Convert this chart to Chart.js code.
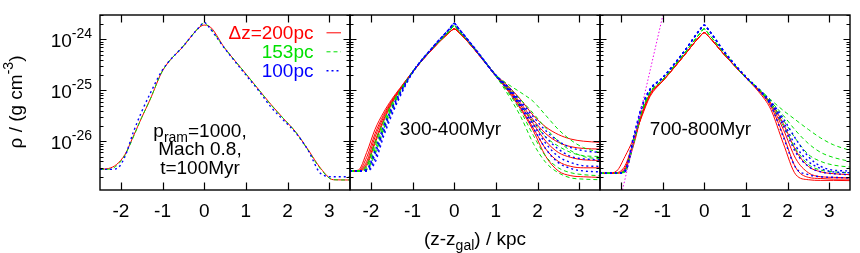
<!DOCTYPE html>
<html>
<head>
<meta charset="utf-8">
<script src="https://cdn.jsdelivr.net/npm/chart.js@4.4.1/dist/chart.umd.min.js"></script>
<style>
  html, body { margin: 0; padding: 0; background: #fff; }
  #wrap { position: relative; width: 860px; height: 253px; }
  #wrap canvas { position: absolute; left: 0; top: 0; }
</style>
</head>
<body>
<div id="wrap">
  <canvas id="p1" width="860" height="253"></canvas>
  <canvas id="p2" width="860" height="253"></canvas>
  <canvas id="p3" width="860" height="253"></canvas>
</div>
<script>
// --- datos ---
const zKpc = [-2.5, -2.3, -2.1, -1.9, -1.7, -1.5, -1.3, -1.0, -0.5, -0.1, 0, 0.1, 0.5, 1.0, 1.3, 1.6, 1.9, 2.2, 2.5, 2.8, 3.1, 3.5];

const xTicks = [-2, -1, 0, 1, 2, 3];
const yDecades = [1e-24, 1e-25, 1e-26];
const yDecadeExp = ['-24', '-25', '-26'];

const legendLabels = ['\u0394z=200pc', '153pc', '100pc'];

// panel 1: t=100Myr
const p1Red   = [2.8e-27, 2.9e-27, 3.5e-27, 5.5e-27, 1.25e-26, 2.9e-26, 6.5e-26, 2.4e-25, 7.3e-25, 1.75e-24, 1.9e-24, 1.85e-24, 6.6e-25, 2.1e-25, 1.05e-25, 5.3e-26, 2.8e-26, 1.5e-26, 6.7e-27, 2.9e-27, 1.75e-27, 1.73e-27];
const p1Green = [2.8e-27, 2.8e-27, 3.3e-27, 5.3e-27, 1.2e-26, 2.9e-26, 6.5e-26, 2.4e-25, 7.4e-25, 1.8e-24, 2.1e-24, 1.8e-24, 6.6e-25, 2.1e-25, 1.05e-25, 5.2e-26, 2.8e-26, 1.5e-26, 6.5e-27, 2.8e-27, 1.75e-27, 1.73e-27];
const p1Blue  = [2.8e-27, 2.8e-27, 2.9e-27, 5.0e-27, 1.5e-26, 3.8e-26, 8.5e-26, 2.5e-25, 7.4e-25, 1.8e-24, 2.15e-24, 1.8e-24, 6.5e-25, 2.0e-25, 1.0e-25, 4.7e-26, 2.6e-26, 1.45e-26, 6.5e-27, 2.3e-27, 2.0e-27, 2.0e-27];

// panel 2: 300-400Myr
const p2Red = [
  [2.6e-27, 2.7e-27, 6.0e-27, 1.7e-26, 3.6e-26, 6.6e-26, 1.1e-25, 2.3e-25, 6.8e-25, 1.4e-24, 1.6e-24, 1.4e-24, 6.2e-25, 2.0e-25, 1.2e-25, 6.5e-26, 3.2e-26, 1.9e-26, 1.35e-26, 1.1e-26, 1.0e-26, 9.5e-27],
  [2.6e-27, 2.6e-27, 4.8e-27, 1.4e-26, 3.2e-26, 6.2e-26, 1.05e-25, 2.3e-25, 6.8e-25, 1.4e-24, 1.6e-24, 1.4e-24, 6.2e-25, 1.95e-25, 1.1e-25, 5.5e-26, 2.6e-26, 1.4e-26, 9.5e-27, 7.8e-27, 7.2e-27, 7.0e-27],
  [2.6e-27, 2.6e-27, 4.0e-27, 1.2e-26, 2.9e-26, 5.9e-26, 1.05e-25, 2.3e-25, 6.8e-25, 1.4e-24, 1.6e-24, 1.4e-24, 6.2e-25, 1.95e-25, 1.05e-25, 5.0e-26, 2.2e-26, 1.0e-26, 6.0e-27, 4.8e-27, 4.3e-27, 4.2e-27],
  [2.6e-27, 2.6e-27, 3.6e-27, 1.0e-26, 2.6e-26, 5.6e-26, 1.0e-25, 2.25e-25, 6.7e-25, 1.4e-24, 1.6e-24, 1.4e-24, 6.1e-25, 1.9e-25, 1.0e-25, 4.5e-26, 1.8e-26, 7.0e-27, 4.0e-27, 3.2e-27, 3.0e-27, 3.0e-27],
  [2.6e-27, 2.6e-27, 3.3e-27, 9.0e-27, 2.4e-26, 5.4e-26, 1.0e-25, 2.25e-25, 6.7e-25, 1.4e-24, 1.6e-24, 1.4e-24, 6.1e-25, 1.9e-25, 9.5e-26, 4.2e-26, 1.6e-26, 5.0e-27, 2.6e-27, 2.1e-27, 2.0e-27, 1.95e-27]
];
const p2Green = [
  [2.6e-27, 2.6e-27, 3.4e-27, 9.5e-27, 2.4e-26, 5.4e-26, 1.0e-25, 2.3e-25, 7.0e-25, 1.5e-24, 1.85e-24, 1.5e-24, 6.5e-25, 2.0e-25, 1.3e-25, 9.0e-26, 6.0e-26, 3.2e-26, 1.7e-26, 1.05e-26, 7.5e-27, 6.0e-27],
  [2.6e-27, 2.6e-27, 3.1e-27, 8.0e-27, 2.1e-26, 5.0e-26, 9.6e-26, 2.3e-25, 7.0e-25, 1.5e-24, 1.85e-24, 1.5e-24, 6.5e-25, 2.0e-25, 1.15e-25, 6.5e-26, 3.5e-26, 1.8e-26, 1.0e-26, 6.5e-27, 5.0e-27, 4.5e-27],
  [2.6e-27, 2.6e-27, 2.9e-27, 7.0e-27, 1.9e-26, 4.7e-26, 9.3e-26, 2.3e-25, 7.0e-25, 1.5e-24, 1.85e-24, 1.5e-24, 6.4e-25, 1.95e-25, 1.05e-25, 5.0e-26, 2.4e-26, 1.2e-26, 8.0e-27, 6.0e-27, 5.2e-27, 5.0e-27],
  [2.6e-27, 2.6e-27, 2.8e-27, 6.0e-27, 1.7e-26, 4.4e-26, 9.0e-26, 2.25e-25, 7.0e-25, 1.5e-24, 1.85e-24, 1.5e-24, 6.3e-25, 1.9e-25, 9.0e-26, 3.8e-26, 1.3e-26, 5.0e-27, 3.0e-27, 2.4e-27, 2.2e-27, 2.1e-27],
  [2.6e-27, 2.6e-27, 2.7e-27, 5.5e-27, 1.6e-26, 4.2e-26, 8.8e-26, 2.25e-25, 7.0e-25, 1.5e-24, 1.85e-24, 1.5e-24, 6.3e-25, 1.9e-25, 8.0e-26, 3.0e-26, 9.0e-27, 3.8e-27, 2.4e-27, 1.9e-27, 1.8e-27, 1.75e-27]
];
const p2Blue = [
  [2.6e-27, 2.6e-27, 2.8e-27, 6.5e-27, 1.9e-26, 4.5e-26, 9.0e-26, 2.3e-25, 7.2e-25, 1.65e-24, 2.05e-24, 1.65e-24, 6.6e-25, 2.0e-25, 1.15e-25, 6.0e-26, 3.0e-26, 1.6e-26, 1.0e-26, 7.5e-27, 6.5e-27, 6.0e-27],
  [2.6e-27, 2.6e-27, 2.7e-27, 5.5e-27, 1.6e-26, 4.0e-26, 8.5e-26, 2.25e-25, 7.2e-25, 1.65e-24, 2.05e-24, 1.65e-24, 6.5e-25, 1.95e-25, 1.1e-25, 5.5e-26, 2.5e-26, 1.2e-26, 7.0e-27, 5.0e-27, 4.5e-27, 4.3e-27],
  [2.6e-27, 2.6e-27, 2.6e-27, 4.5e-27, 1.4e-26, 3.6e-26, 8.0e-26, 2.2e-25, 7.2e-25, 1.65e-24, 2.05e-24, 1.65e-24, 6.5e-25, 1.95e-25, 1.05e-25, 5.0e-26, 2.1e-26, 9.0e-27, 5.0e-27, 3.8e-27, 3.3e-27, 3.2e-27],
  [2.6e-27, 2.6e-27, 2.6e-27, 3.8e-27, 1.2e-26, 3.2e-26, 7.5e-26, 2.2e-25, 7.2e-25, 1.65e-24, 2.05e-24, 1.65e-24, 6.4e-25, 1.9e-25, 1.0e-25, 4.6e-26, 1.8e-26, 7.0e-27, 3.8e-27, 2.9e-27, 2.6e-27, 2.5e-27]
];

// panel 3: 700-800Myr
const p3Red = [
  [2.35e-27, 2.35e-27, 2.6e-27, 5.0e-27, 1.1e-26, 3.0e-26, 7.5e-26, 1.5e-25, 4.6e-25, 1.15e-24, 1.35e-24, 1.15e-24, 4.8e-25, 1.75e-25, 9.5e-26, 4.2e-26, 9.0e-27, 2.2e-27, 1.75e-27, 1.7e-27, 1.7e-27, 1.68e-27],
  [2.35e-27, 2.35e-27, 2.4e-27, 3.3e-27, 9.5e-27, 3.2e-26, 8.0e-26, 1.5e-25, 4.6e-25, 1.15e-24, 1.35e-24, 1.15e-24, 4.8e-25, 1.75e-25, 1.0e-25, 4.8e-26, 1.3e-26, 3.0e-27, 1.95e-27, 1.85e-27, 1.8e-27, 1.8e-27],
  [2.35e-27, 2.35e-27, 2.35e-27, 3.0e-27, 9.0e-27, 3.4e-26, 8.5e-26, 1.5e-25, 4.6e-25, 1.15e-24, 1.35e-24, 1.15e-24, 4.8e-25, 1.8e-25, 1.02e-25, 5.2e-26, 1.7e-26, 4.5e-27, 2.4e-27, 2.0e-27, 1.95e-27, 1.9e-27],
  [2.35e-27, 2.35e-27, 2.35e-27, 2.8e-27, 8.0e-27, 3.3e-26, 8.5e-26, 1.5e-25, 4.6e-25, 1.15e-24, 1.35e-24, 1.15e-24, 4.8e-25, 1.8e-25, 1.05e-25, 5.6e-26, 2.2e-26, 6.5e-27, 3.2e-27, 2.5e-27, 2.3e-27, 2.2e-27]
];
const p3Green = [
  [2.35e-27, 2.35e-27, 2.35e-27, 2.6e-27, 9.0e-27, 3.8e-26, 9.0e-26, 1.6e-25, 5.0e-25, 1.3e-24, 1.6e-24, 1.3e-24, 5.2e-25, 1.8e-25, 1.1e-25, 6.5e-26, 4.0e-26, 2.6e-26, 1.7e-26, 1.15e-26, 8.5e-27, 6.6e-27],
  [2.35e-27, 2.35e-27, 2.35e-27, 2.7e-27, 1.0e-26, 4.0e-26, 9.2e-26, 1.6e-25, 5.0e-25, 1.3e-24, 1.6e-24, 1.3e-24, 5.2e-25, 1.8e-25, 1.08e-25, 6.0e-26, 3.2e-26, 1.6e-26, 9.0e-27, 6.0e-27, 4.8e-27, 4.0e-27],
  [2.35e-27, 2.35e-27, 2.35e-27, 2.45e-27, 8.5e-27, 3.6e-26, 8.8e-26, 1.6e-25, 5.0e-25, 1.3e-24, 1.6e-24, 1.3e-24, 5.1e-25, 1.8e-25, 1.05e-25, 5.6e-26, 2.6e-26, 1.1e-26, 5.5e-27, 4.0e-27, 3.4e-27, 3.1e-27],
  [2.35e-27, 2.35e-27, 2.35e-27, 2.6e-27, 9.5e-27, 3.9e-26, 9.0e-26, 1.6e-25, 5.0e-25, 1.3e-24, 1.6e-24, 1.3e-24, 5.1e-25, 1.8e-25, 1.03e-25, 5.2e-26, 2.0e-26, 7.0e-27, 3.5e-27, 2.7e-27, 2.5e-27, 2.4e-27]
];
const p3Blue = [
  [2.35e-27, 2.35e-27, 2.35e-27, 2.6e-27, 1.1e-26, 4.6e-26, 1.05e-25, 1.75e-25, 5.5e-25, 1.55e-24, 1.9e-24, 1.55e-24, 5.5e-25, 1.85e-25, 1.08e-25, 6.0e-26, 2.8e-26, 1.1e-26, 5.0e-27, 3.2e-27, 2.7e-27, 2.6e-27],
  [2.35e-27, 2.35e-27, 2.35e-27, 2.5e-27, 1.0e-26, 4.4e-26, 1.0e-25, 1.75e-25, 5.5e-25, 1.55e-24, 1.9e-24, 1.55e-24, 5.5e-25, 1.85e-25, 1.05e-25, 5.5e-26, 2.0e-26, 6.0e-27, 3.2e-27, 2.5e-27, 2.3e-27, 2.2e-27],
  [2.35e-27, 2.35e-27, 2.35e-27, 2.7e-27, 1.2e-26, 4.8e-26, 1.05e-25, 1.75e-25, 5.5e-25, 1.55e-24, 1.9e-24, 1.55e-24, 5.4e-25, 1.8e-25, 1.02e-25, 5.0e-26, 1.2e-26, 3.0e-27, 2.2e-27, 2.0e-27, 1.95e-27, 1.9e-27],
  [2.35e-27, 2.35e-27, 2.35e-27, 2.55e-27, 1.05e-26, 4.5e-26, 1.02e-25, 1.75e-25, 5.5e-25, 1.55e-24, 1.9e-24, 1.55e-24, 5.4e-25, 1.8e-25, 1.06e-25, 5.8e-26, 2.4e-26, 8.0e-27, 4.0e-27, 2.9e-27, 2.5e-27, 2.4e-27]
];
// linea de ajuste (magenta, punteada) en panel 3
const p3FitZ = [-1.96, -0.99];
const p3FitRho = [1.1e-27, 3.0e-24];

// --- estilos ---
const RED = '#ff0000', GREEN = '#00e000', BLUE = '#0000ff', MAGENTA = '#ee00ee';
const FONT = '"Liberation Sans", Arial, Helvetica, sans-serif';
const FS = 19, FS_SMALL = 14;

const styleRed   = { borderColor: RED, borderWidth: 1, borderDash: [] };
const styleGreen = { borderColor: GREEN, borderWidth: 1, borderDash: [4, 3] };
const styleBlue  = { borderColor: BLUE, borderWidth: 1.4, borderDash: [2, 3] };

function toPts(xs, ys) { return xs.map((x, i) => ({ x: x, y: ys[i] })); }

function series(list, style) {
  return list.map(vals => Object.assign({ data: toPts(zKpc, vals), fill: false }, style));
}

// texto con super/subindices: parts = [[texto, 'sup'|'sub'|undefined], ...]
function richText(ctx, parts, x, y, align) {
  let w = 0;
  parts.forEach(p => {
    ctx.font = (p[1] ? FS_SMALL : FS) + 'px ' + FONT;
    w += ctx.measureText(p[0]).width;
  });
  let cx = align === 'right' ? x - w : align === 'center' ? x - w / 2 : x;
  ctx.textAlign = 'left';
  ctx.textBaseline = 'alphabetic';
  parts.forEach(p => {
    ctx.font = (p[1] ? FS_SMALL : FS) + 'px ' + FONT;
    const dy = p[1] === 'sup' ? -9 : p[1] === 'sub' ? 5 : 0;
    ctx.fillText(p[0], cx, y + dy);
    cx += ctx.measureText(p[0]).width;
  });
}

// marco tipo gnuplot: ticks hacia adentro, etiquetas, textos
const gnuFrame = {
  id: 'gnuFrame',
  afterDraw(chart, args, opts) {
    const { ctx, chartArea: a, scales: { x, y } } = chart;
    ctx.save();
    ctx.strokeStyle = '#000';
    ctx.lineWidth = 1.2;
    ctx.setLineDash([]);
    ctx.beginPath();
    xTicks.forEach(v => {
      const px = Math.round(x.getPixelForValue(v)) + 0.5;
      ctx.moveTo(px, a.bottom); ctx.lineTo(px, a.bottom - 7.5);
      ctx.moveTo(px, a.top); ctx.lineTo(px, a.top + 7.5);
    });
    for (let e = -28; e <= -24; e++) {
      for (let m = 1; m <= 9; m++) {
        const v = m * Math.pow(10, e);
        if (v < y.min || v > y.max) continue;
        const py = Math.round(y.getPixelForValue(v)) + 0.5;
        const len = m === 1 ? 6.5 : 3.5;
        ctx.moveTo(a.left, py); ctx.lineTo(a.left + len, py);
        ctx.moveTo(a.right, py); ctx.lineTo(a.right - len, py);
      }
    }
    ctx.stroke();
    ctx.lineWidth = 1.4;
    ctx.strokeRect(a.left, a.top, a.right - a.left, a.bottom - a.top);

    ctx.fillStyle = '#000';
    // etiquetas eje x
    ctx.font = FS + 'px ' + FONT;
    ctx.textAlign = 'center';
    ctx.textBaseline = 'alphabetic';
    xTicks.forEach(v => ctx.fillText(String(v), x.getPixelForValue(v), 217));

    if (opts.yLabels) {
      yDecades.forEach((v, i) => {
        const py = y.getPixelForValue(v);
        richText(ctx, [['10'], [yDecadeExp[i], 'sup']], 92, py + 7.5, 'right');
      });
      // titulo eje y
      ctx.save();
      ctx.translate(22, 102);
      ctx.rotate(-Math.PI / 2);
      richText(ctx, [['\u03c1 / (g cm'], ['-3', 'sup'], [')']], 0, 0, 'center');
      ctx.restore();
      // titulo eje x
      richText(ctx, [['(z-z'], ['gal', 'sub'], [') / kpc']], 475, 245, 'center');
    }

    if (opts.legend) {
      const rows = [
        { t: legendLabels[0], c: RED, s: styleRed, yb: 39.3 },
        { t: legendLabels[1], c: GREEN, s: styleGreen, yb: 58.3 },
        { t: legendLabels[2], c: BLUE, s: styleBlue, yb: 77.3 }
      ];
      rows.forEach(r => {
        ctx.fillStyle = r.c;
        richText(ctx, [[r.t]], 313.5, r.yb, 'right');
        ctx.strokeStyle = r.c;
        ctx.lineWidth = r.s.borderWidth;
        ctx.setLineDash(r.s.borderDash);
        ctx.beginPath();
        ctx.moveTo(326.5, r.yb - 6.5);
        ctx.lineTo(341, r.yb - 6.5);
        ctx.stroke();
      });
      ctx.setLineDash([]);
    }

    if (opts.notes) {
      ctx.fillStyle = '#000';
      opts.notes.forEach(n => richText(ctx, n.parts, n.x, n.y, 'center'));
    }
    ctx.restore();
  }
};

function makePanel(id, left, right, datasets, frameOpts) {
  return new Chart(document.getElementById(id), {
    type: 'line',
    data: { datasets: datasets },
    options: {
      responsive: false,
      animation: false,
      devicePixelRatio: 1,
      layout: { padding: { left: left, right: 860 - right, top: 15, bottom: 253 - 190 } },
      scales: {
        x: { type: 'linear', min: -2.5, max: 3.5, display: false },
        y: { type: 'logarithmic', min: 1.1e-27, max: 3e-24, display: false }
      },
      elements: {
        point: { radius: 0 },
        line: { cubicInterpolationMode: 'monotone' }
      },
      plugins: {
        legend: { display: false },
        tooltip: { enabled: false },
        gnuFrame: frameOpts
      }
    },
    plugins: [gnuFrame]
  });
}

// dataset 0 se dibuja encima: azul primero
makePanel('p1', 100, 350,
  [].concat(series([p1Blue], styleBlue), series([p1Green], styleGreen), series([p1Red], styleRed)),
  {
    yLabels: true,
    legend: true,
    notes: [
      { parts: [['p'], ['ram', 'sub'], ['=1000,']], x: 200, y: 136.5 },
      { parts: [['Mach 0.8,']], x: 200, y: 155 },
      { parts: [['t=100Myr']], x: 200, y: 174 }
    ]
  });

makePanel('p2', 350, 600,
  [].concat(series(p2Blue, styleBlue), series(p2Green, styleGreen), series(p2Red, styleRed)),
  { notes: [{ parts: [['300-400Myr']], x: 450.5, y: 135 }] });

makePanel('p3', 600, 850,
  [{ data: toPts(p3FitZ, p3FitRho), borderColor: MAGENTA, borderWidth: 1, borderDash: [1.5, 2], fill: false, cubicInterpolationMode: 'default', tension: 0 }]
    .concat(series(p3Blue, styleBlue), series(p3Green, styleGreen), series(p3Red, styleRed)),
  { notes: [{ parts: [['700-800Myr']], x: 700.5, y: 135 }] });
</script>
</body>
</html>
